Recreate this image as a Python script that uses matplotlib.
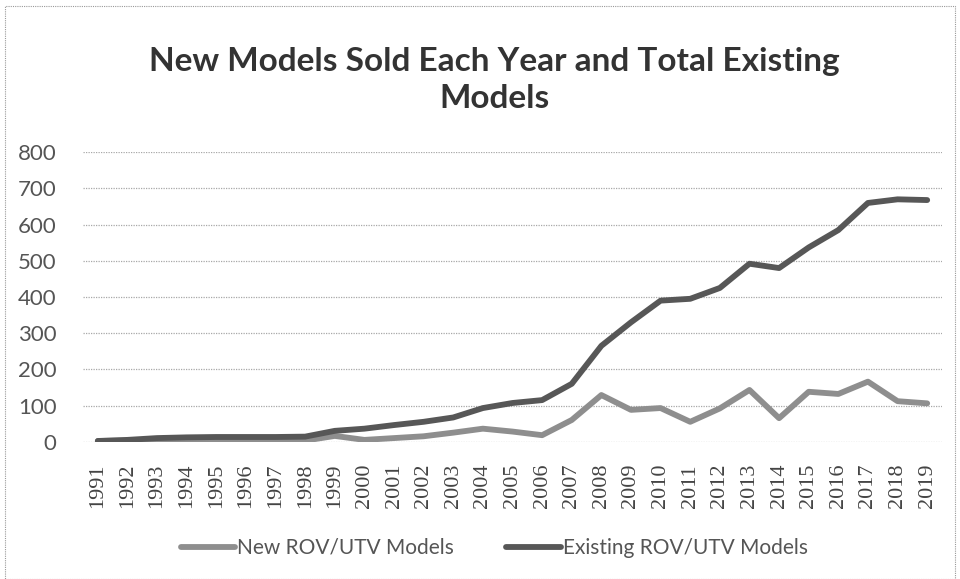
import matplotlib.pyplot as plt
from matplotlib.patches import Rectangle

# data
years = [str(y) for y in range(1991, 2020)]
new_models = [2, 3, 5, 3, 2, 2, 2, 3, 16, 5, 10, 15, 25, 36, 28, 18, 60, 129, 88, 93,
              55, 92, 143, 65, 138, 132, 166, 112, 106]
existing_models = [2, 5, 10, 12, 13, 13, 13, 14, 30, 36, 46, 55, 67, 93, 107, 115, 160, 265,
                   330, 390, 395, 425, 492, 480, 537, 585, 660, 670, 668]

fig = plt.figure(figsize=(9.6, 5.79), dpi=100)
ax = fig.add_axes([83 / 960, 1 - 441.7 / 579, (942 - 83) / 960, (441.7 - 152.3) / 579])

x = range(len(years))
ax.plot(x, new_models, color='#8e8e8e', lw=4.2, solid_joinstyle='round',
        solid_capstyle='round', label='New ROV/UTV Models', zorder=3)
ax.plot(x, existing_models, color='#575757', lw=4.2, solid_joinstyle='round',
        solid_capstyle='round', label='Existing ROV/UTV Models', zorder=4)

ax.set_xlim(-0.5, len(years) - 0.5)
ax.set_ylim(0, 800)
ax.set_yticks(range(0, 801, 100))
ax.set_xticks(list(x))
ax.set_xticklabels(years, rotation=90, fontfamily='Liberation Serif', fontsize=16,
                   color='#444444')
for lab in ax.get_yticklabels():
    lab.set_fontfamily('Lato')
    lab.set_fontsize(16)
    lab.set_color('#555555')
ax.tick_params(axis='both', length=0)
ax.tick_params(axis='y', pad=19)
ax.tick_params(axis='x', pad=16)
ax.grid(axis='y', color='#a8a8a8', lw=0.9, ls=(0, (1, 1)), zorder=1)
for s in ax.spines.values():
    s.set_visible(False)

fig.text(0.515, 1 - 80 / 579, 'New Models Sold Each Year and Total Existing\nModels',
         ha='center', va='center', fontfamily='Lato', fontweight='bold', fontsize=24,
         color='#333333', linespacing=1.3)

fig.legend(loc='center', bbox_to_anchor=(0.515, 1 - 548 / 579), ncol=2, frameon=False,
           prop={'family': 'Lato', 'size': 15}, handlelength=2.6, handletextpad=0.1,
           columnspacing=2.5, labelcolor='#555555')

# dotted chart border
fig.patches.append(Rectangle((5 / 960, 0), 950 / 960, 1 - 6 / 579, transform=fig.transFigure,
                             fill=False, ec='#999999', lw=0.8, ls=(0, (1, 1))))

plt.savefig('out.png', dpi=100)
